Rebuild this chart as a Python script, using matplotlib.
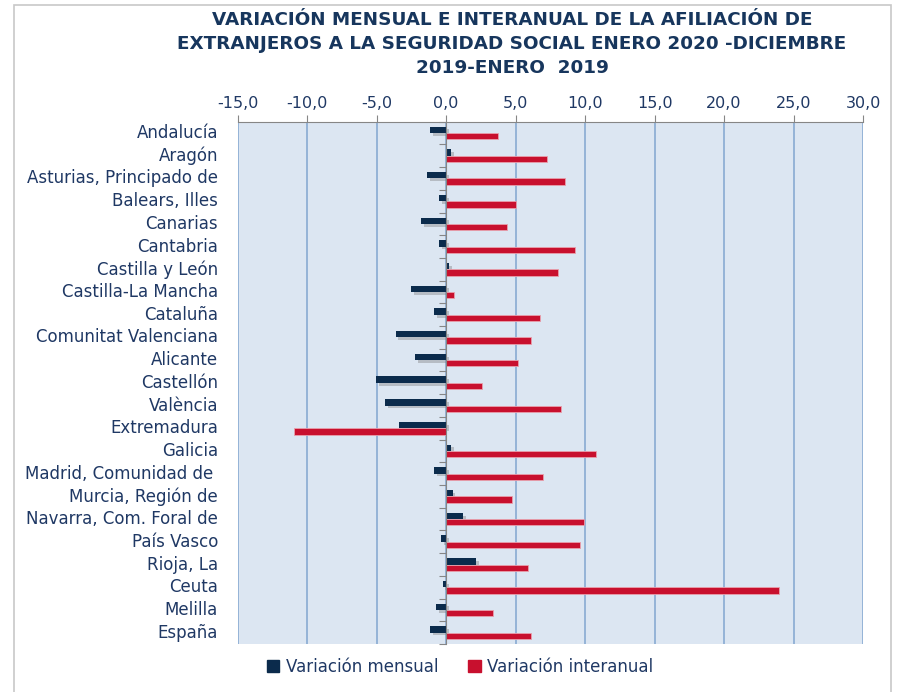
import matplotlib
matplotlib.use("Agg")
import matplotlib.pyplot as plt
import matplotlib.patheffects as pe
from matplotlib.patches import Patch, Rectangle
import matplotlib.transforms as mtransforms
import numpy as np

# datos
regiones = ["Andalucía", "Aragón", "Asturias, Principado de", "Balears, Illes",
            "Canarias", "Cantabria", "Castilla y León", "Castilla-La Mancha",
            "Cataluña", "Comunitat Valenciana", "Alicante", "Castellón",
            "València", "Extremadura", "Galicia", "Madrid, Comunidad de ",
            "Murcia, Región de", "Navarra, Com. Foral de", "País Vasco",
            "Rioja, La", "Ceuta", "Melilla", "España"]
var_mensual = [-1.15, 0.35, -1.38, -0.53, -1.79, -0.53, 0.23, -2.52,
               -0.88, -3.64, -2.26, -5.02, -4.40, -3.41, 0.35, -0.88,
               0.47, 1.23, -0.38, 2.14, -0.26, -0.73, -1.15]
var_interanual = [3.76, 7.28, 8.54, 5.02, 4.40, 9.28, 8.04, 0.59,
                  6.75, 6.14, 5.14, 2.61, 8.25, -10.92, 10.78, 6.99,
                  4.76, 9.89, 9.63, 5.90, 23.93, 3.38, 6.14]
xticks = np.arange(-15, 31, 5)

navy = "#0B2B4C"
rojo = "#C8102E"
texto = "#1F3864"

W, H = 897, 692
fig = plt.figure(figsize=(W / 100, H / 100), dpi=100)

# marco del grafico
fig.patches.append(Rectangle((14 / W, -0.01), (891 - 14) / W, 1 - 5 / H + 0.01,
                             transform=fig.transFigure, fill=False,
                             edgecolor="#C8C8C8", lw=1.2))

ax = fig.add_axes([237.7 / W, 1 - 644 / H, (863 - 237.7) / W, (644 - 121.7) / H])
ax.set_facecolor("#DCE6F2")

y = np.arange(len(regiones))
h = 0.28
sombra = [pe.SimplePatchShadow(offset=(2, -2), shadow_rgbFace="#7F7F7F", alpha=0.4), pe.Normal()]
ax.barh(y - h / 2, var_mensual, height=h, color=navy, zorder=3, path_effects=sombra)
ax.barh(y + h / 2, var_interanual, height=h, color=rojo, edgecolor="#E8A0AC",
        linewidth=0.6, zorder=3)

ax.set_xlim(-15, 30)
ax.set_ylim(len(regiones) - 0.5, -0.5)

# eje x arriba
ax.xaxis.tick_top()
ax.set_xticks(xticks)
ax.set_xticklabels([f"{v:.1f}".replace(".", ",") for v in xticks],
                   fontsize=11.5, color=texto, family="DejaVu Sans")
ax.tick_params(axis="x", direction="out", length=5, color="#868686", pad=3)
ax.grid(axis="x", color="#95B3D7", lw=1.4, zorder=1)
ax.set_axisbelow(True)

# eje y en el cero con marcas entre categorias
ax.spines["left"].set_position(("data", 0))
ax.spines["left"].set_color("#868686")
ax.spines["left"].set_zorder(4)
ax.set_yticks(np.arange(len(regiones) + 1) - 0.5)
ax.set_yticklabels([])
ax.tick_params(axis="y", direction="out", length=5, color="#868686")
ax.spines["top"].set_color("#868686")
ax.spines["right"].set_visible(False)
ax.spines["bottom"].set_visible(False)

trans = mtransforms.blended_transform_factory(ax.transAxes, ax.transData)
for i, r in enumerate(regiones):
    ax.text(-0.0315, i, r, transform=trans, ha="right", va="center",
            fontsize=12, color=texto, family="DejaVu Sans")

fig.text(512 / W, 1 - 44 / H,
         "VARIACIÓN MENSUAL E INTERANUAL DE LA AFILIACIÓN DE\n"
         "EXTRANJEROS A LA SEGURIDAD SOCIAL ENERO 2020 -DICIEMBRE\n"
         "2019-ENERO  2019",
         ha="center", va="center", fontsize=13.2, fontweight="bold",
         color="#17365D", family="DejaVu Sans", linespacing=1.4)

handles = [Patch(color=navy, label="Variación mensual"),
           Patch(color=rojo, label="Variación interanual")]
fig.legend(handles=handles, loc="center", bbox_to_anchor=(460 / W, 1 - 667 / H),
           ncol=2, frameon=False, fontsize=12, handlelength=0.75,
           handleheight=0.75, handletextpad=0.4, columnspacing=1.8,
           labelcolor=texto)

fig.savefig("out.png", dpi=100)
